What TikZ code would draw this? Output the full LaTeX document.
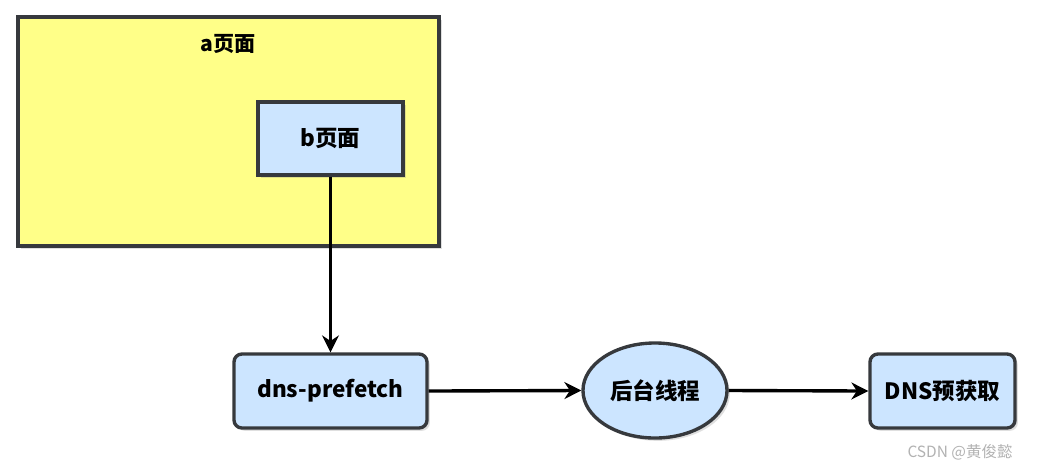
\documentclass[tikz,border=0pt]{standalone}
\usepackage{fontspec}
\setmainfont{Noto Sans CJK SC}
\usetikzlibrary{shapes.geometric,shadows,arrows.meta}
\definecolor{pageyellow}{HTML}{FFFF88}
\definecolor{boxblue}{HTML}{CCE5FF}
\definecolor{edge}{HTML}{36393D}
\tikzset{
  box/.style = {draw = edge, line width = 2.4pt, fill = boxblue, font = \bfseries\fontsize{16}{18}\selectfont,
    drop shadow = {opacity = .25, shadow xshift = 2pt, shadow yshift = -2pt}},
  flow/.style = {line width = 2.4pt, -{Stealth[length = 12pt, width = 12pt]}}
}
\begin{document}
\begin{tikzpicture}[x = .025cm, y = -.025cm]
          \useasboundingbox [fill = white] (0,0) rectangle (1044,470);
          \node [box, fill = pageyellow, minimum width = 10.525cm, minimum height = 5.725cm] (apage) at (228.5,131.5) {};
          \node [font = \bfseries\fontsize{15}{17}\selectfont] (atitle) at (228,44) {a页面};
          \node [box, minimum width = 3.625cm, minimum height = 1.825cm] (bpage) at (330.5,138.5) {b页面};
          \node [box, rounded corners = .2cm, minimum width = 4.825cm, minimum height = 1.85cm] (dns) at (330.5,391) {dns-prefetch};
          \node [box, ellipse, inner sep = 0pt, minimum width = 3.6cm, minimum height = 2.375cm] (thread) at (655,390.5) {后台线程};
          \node [box, rounded corners = .2cm, minimum width = 3.625cm, minimum height = 1.85cm] (dnsget) at (942.5,391) {DNS预获取};
          \draw [flow] (bpage.south) -- (dns.north);
          \draw [flow] (dns.east) -- (thread.west);
          \draw [flow] (thread.east) -- (dnsget.west);
          \node [text = black!30, font = \fontsize{11}{13}\selectfont] (mark) at (960,452) {CSDN @黄俊懿};
        \end{tikzpicture}
\end{document}
